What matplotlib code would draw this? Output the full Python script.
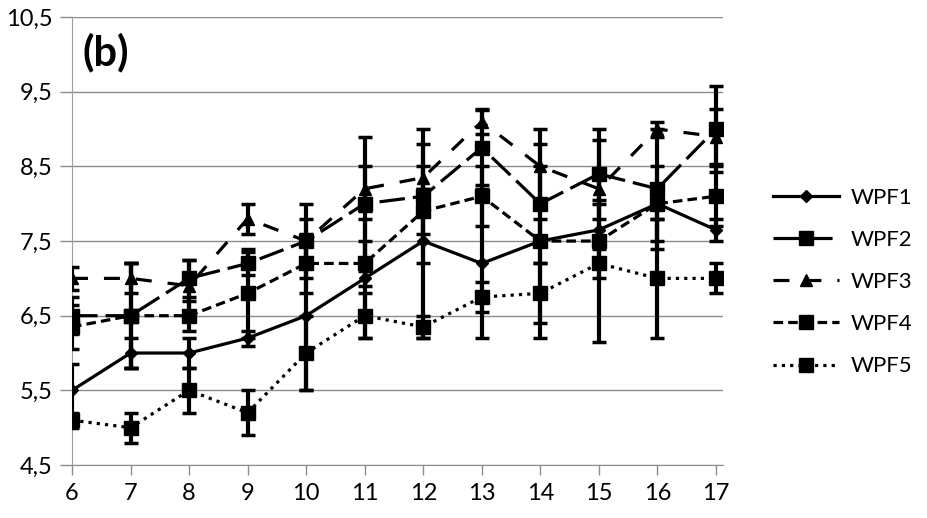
import numpy as np
import matplotlib
matplotlib.use("Agg")
import matplotlib.pyplot as plt

plt.rcParams['font.family'] = ['Lato', 'DejaVu Sans']

days = [6, 7, 8, 9, 10, 11, 12, 13, 14, 15, 16, 17]

wpf1 = [5.5, 6.0, 6.0, 6.2, 6.5, 7.0, 7.5, 7.2, 7.5, 7.65, 8.0, 7.65]
wpf2 = [6.5, 6.5, 7.0, 7.2, 7.5, 8.0, 8.1, 8.75, 8.0, 8.4, 8.2, 9.0]
wpf3 = [7.0, 7.0, 6.9, 7.8, 7.5, 8.2, 8.35, 9.1, 8.5, 8.2, 9.0, 8.9]
wpf4 = [6.35, 6.5, 6.5, 6.8, 7.2, 7.2, 7.9, 8.1, 7.5, 7.5, 8.0, 8.1]
wpf5 = [5.1, 5.0, 5.5, 5.2, 6.0, 6.5, 6.35, 6.75, 6.8, 7.2, 7.0, 7.0]

err1 = [0.35, 0.2, 0.2, 0.1, 1.0, 0.8, 1.3, 1.0, 1.3, 0.4, 0.5, 0.15]
err2 = [0.25, 0.7, 0.25, 0.15, 0.3, 0.9, 0.9, 0.5, 0.5, 0.6, 0.8, 0.58]
err3 = [0.15, 0.2, 0.35, 0.2, 0.5, 0.3, 0.15, 0.17, 0.5, 0.2, 0.1, 0.37]
err4 = [0.3, 0.7, 0.2, 0.6, 0.4, 0.3, 0.3, 0.4, 0.3, 1.35, 0.2, 0.4]
err5 = [0.1, 0.2, 0.3, 0.3, 0.5, 0.3, 0.15, 0.2, 0.4, 0.2, 0.8, 0.2]

labels = ['WPF1', 'WPF2', 'WPF3', 'WPF4', 'WPF5']
values = [wpf1, wpf2, wpf3, wpf4, wpf5]
errors = [err1, err2, err3, err4, err5]
markers = ['D', 's', '^', 's', 's']
msizes = [6.5, 10, 9, 10, 10]
dashes = [None, (8, 2.5), (5, 5), (3, 1.6), (1, 1.6)]

fig = plt.figure(figsize=(9.28, 5.18), dpi=100)
ax = fig.add_axes([0.0776, 0.1023, 0.7014, 0.8647])

for vals, err in zip(values, errors):
    ax.errorbar(days, vals, yerr=err, fmt='none', ecolor='black',
                elinewidth=3, capsize=5, capthick=2.5, zorder=3)

for vals, lab, mk, ms, ds in zip(values, labels, markers, msizes, dashes):
    line, = ax.plot(days, vals, color='black', linewidth=2.3, marker=mk,
                    markersize=ms, markerfacecolor='black',
                    markeredgecolor='black', label=lab, zorder=4)
    if ds is not None:
        line.set_dashes(ds)

ax.set_xlim(6, 17.12)
ax.set_ylim(4.5, 10.5)
ax.set_xticks(days)
ax.set_xticklabels([str(d) for d in days])
yt = [4.5, 5.5, 6.5, 7.5, 8.5, 9.5, 10.5]
ax.set_yticks(yt)
ax.set_yticklabels([f"{v:.1f}".replace('.', ',') for v in yt])
ax.grid(axis='y', color='#8c8c8c', linewidth=1)
ax.set_axisbelow(True)
for s in ['top', 'right']:
    ax.spines[s].set_visible(False)
ax.spines['left'].set_color('#a0a0a0')
ax.spines['bottom'].set_color('#8c8c8c')
ax.tick_params(axis='both', labelsize=17, colors='#8c8c8c', labelcolor='black',
               length=7, width=1, direction='out', pad=6)
ax.tick_params(axis='y', length=9, pad=5)

ax.text(0.016, 0.965, '(b)', transform=ax.transAxes, fontsize=30,
        fontweight='bold', va='top', ha='left')

leg = ax.legend(loc='upper left', bbox_to_anchor=(0.823, 0.655),
                bbox_transform=fig.transFigure, frameon=False,
                fontsize=16, handlelength=3.0, labelspacing=1.0,
                handletextpad=0.5, borderaxespad=0)

fig.savefig('out.png', dpi=100)
